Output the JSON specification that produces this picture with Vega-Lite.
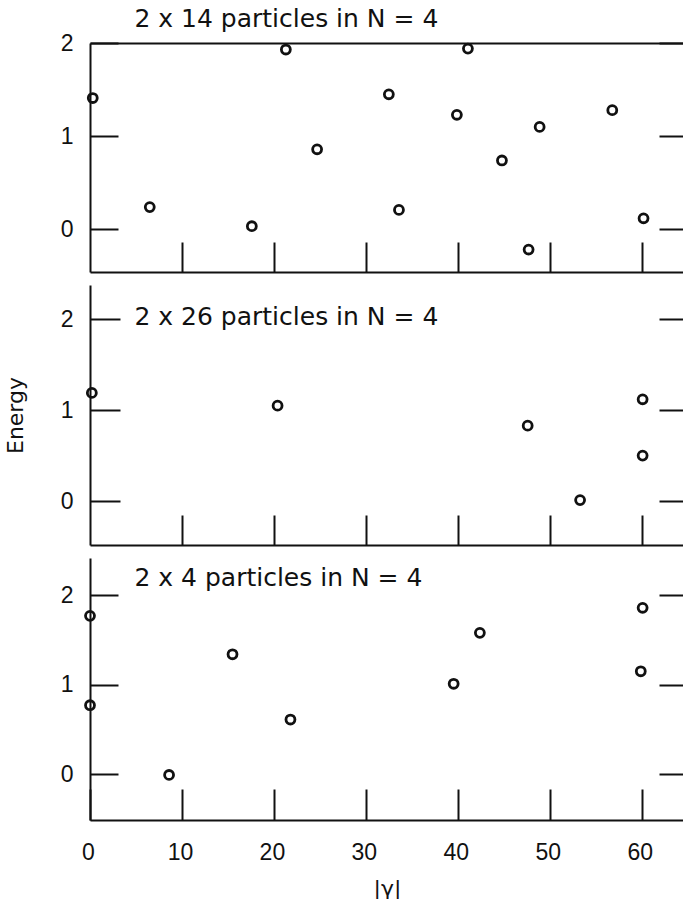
{
  "$schema": "https://vega.github.io/schema/vega-lite/v6.json",
  "background": "white",
  "padding": {"left": 4, "top": 6, "right": 0, "bottom": 0},
  "spacing": 12,
  "config": {
    "view": {"stroke": null},
    "axis": {
      "domainColor": "#111", "tickColor": "#111", "labelColor": "#111", "titleColor": "#111",
      "domainWidth": 2, "tickWidth": 2, "grid": false, "minExtent": 0,
      "labelFont": "Liberation Sans", "labelFontSize": 23, "labelFlush": false, "labelOverlap": false,
      "titleFont": "DejaVu Sans", "titleFontSize": 22, "titleFontWeight": "normal"
    }
  },
  "datasets": {
    "p1": [
      {"gamma": 0.3, "energy": 1.41},
      {"gamma": 6.5, "energy": 0.24},
      {"gamma": 17.6, "energy": 0.035},
      {"gamma": 21.3, "energy": 1.93},
      {"gamma": 24.7, "energy": 0.86},
      {"gamma": 32.5, "energy": 1.45},
      {"gamma": 33.6, "energy": 0.21},
      {"gamma": 39.9, "energy": 1.23},
      {"gamma": 41.1, "energy": 1.94},
      {"gamma": 44.8, "energy": 0.74},
      {"gamma": 47.7, "energy": -0.215},
      {"gamma": 48.9, "energy": 1.10},
      {"gamma": 56.8, "energy": 1.28},
      {"gamma": 60.2, "energy": 0.12}
    ],
    "p2": [
      {"gamma": 0.2, "energy": 1.19},
      {"gamma": 20.4, "energy": 1.05},
      {"gamma": 47.6, "energy": 0.83},
      {"gamma": 53.3, "energy": 0.01},
      {"gamma": 60.1, "energy": 1.12},
      {"gamma": 60.1, "energy": 0.50}
    ],
    "p3": [
      {"gamma": 0.0, "energy": 1.77},
      {"gamma": 0.0, "energy": 0.77},
      {"gamma": 8.6, "energy": -0.01},
      {"gamma": 15.5, "energy": 1.34},
      {"gamma": 21.8, "energy": 0.61},
      {"gamma": 39.55, "energy": 1.01},
      {"gamma": 42.4, "energy": 1.58},
      {"gamma": 60.1, "energy": 1.86},
      {"gamma": 59.9, "energy": 1.15}
    ]
  },
  "vconcat": [
    {
      "width": 594, "height": 229,
      "data": {"name": "p1"},
      "layer": [
        {
          "mark": {"type": "point", "shape": "circle", "filled": false, "size": 80, "strokeWidth": 2.8, "color": "#111", "opacity": 1},
          "encoding": {
            "x": {"field": "gamma", "type": "quantitative", "scale": {"domain": [0, 64.6], "nice": false, "zero": false},
                  "axis": {"orient": "bottom", "values": [10, 20, 30, 40, 50, 60], "labels": false, "tickSize": -30, "title": null}},
            "y": {"field": "energy", "type": "quantitative", "scale": {"domain": [-0.456, 2.0], "nice": false, "zero": false},
                  "axis": {"orient": "left", "values": [0, 1, 2], "tickSize": -28, "labelPadding": 45, "title": null}}
          }
        },
        {
          "mark": {"type": "point", "opacity": 0},
          "encoding": {
            "x": {"field": "gamma", "type": "quantitative",
                  "axis": {"orient": "top", "ticks": false, "labels": false, "title": "2 x 14 particles in N = 4",
                           "titleFont": "DejaVu Sans", "titleFontSize": 25, "titleAnchor": "start", "titleAlign": "left",
                           "titleBaseline": "alphabetic", "titleX": 44, "titleY": -16.6}},
            "y": {"field": "energy", "type": "quantitative", "axis": {"orient": "right", "values": [0, 1, 2], "tickSize": -25, "labels": false, "domain": false, "title": null}}
          }
        }
      ],
      "resolve": {"axis": {"x": "independent", "y": "independent"}}
    },
    {
      "width": 594, "height": 260,
      "data": {"name": "p2"},
      "layer": [
        {
          "mark": {"type": "point", "shape": "circle", "filled": false, "size": 80, "strokeWidth": 2.8, "color": "#111", "opacity": 1},
          "encoding": {
            "x": {"field": "gamma", "type": "quantitative", "scale": {"domain": [0, 64.6], "nice": false, "zero": false},
                  "axis": {"orient": "bottom", "values": [10, 20, 30, 40, 50, 60], "labels": false, "tickSize": -30, "title": null}},
            "y": {"field": "energy", "type": "quantitative", "scale": {"domain": [-0.484, 2.378], "nice": false, "zero": false},
                  "axis": {"orient": "left", "values": [0, 1, 2], "tickSize": -30, "labelPadding": 47, "title": "Energy", "titlePadding": 33}}
          }
        },
        {
          "mark": {"type": "point", "opacity": 0},
          "encoding": {
            "x": {"field": "gamma", "type": "quantitative",
                  "axis": {"orient": "top", "ticks": false, "labels": false, "domain": false, "title": "2 x 26 particles in N = 4",
                           "titleFont": "DejaVu Sans", "titleFontSize": 25, "titleAnchor": "start", "titleAlign": "left",
                           "titleBaseline": "alphabetic", "titleX": 44, "titleY": 39}},
            "y": {"field": "energy", "type": "quantitative", "axis": {"orient": "right", "values": [0, 1, 2], "tickSize": -25, "labels": false, "domain": false, "title": null}}
          }
        }
      ],
      "resolve": {"axis": {"x": "independent", "y": "independent"}}
    },
    {
      "width": 594, "height": 262,
      "data": {"name": "p3"},
      "layer": [
        {
          "mark": {"type": "point", "shape": "circle", "filled": false, "size": 80, "strokeWidth": 2.8, "color": "#111", "opacity": 1},
          "encoding": {
            "x": {"field": "gamma", "type": "quantitative", "scale": {"domain": [0, 64.6], "nice": false, "zero": false},
                  "axis": {"orient": "bottom", "values": [0, 10, 20, 30, 40, 50, 60], "tickSize": -31, "labelPadding": 52, "labelOffset": -2, "title": "|γ|", "titlePadding": 14}},
            "y": {"field": "energy", "type": "quantitative", "scale": {"domain": [-0.514, 2.417], "nice": false, "zero": false},
                  "axis": {"orient": "left", "values": [0, 1, 2], "tickSize": -28, "labelPadding": 45, "title": null}}
          }
        },
        {
          "mark": {"type": "point", "opacity": 0},
          "encoding": {
            "x": {"field": "gamma", "type": "quantitative",
                  "axis": {"orient": "top", "ticks": false, "labels": false, "domain": false, "title": "2 x 4 particles in N = 4",
                           "titleFont": "DejaVu Sans", "titleFontSize": 25, "titleAnchor": "start", "titleAlign": "left",
                           "titleBaseline": "alphabetic", "titleX": 44, "titleY": 27.5}},
            "y": {"field": "energy", "type": "quantitative", "axis": {"orient": "right", "values": [0, 1, 2], "tickSize": -25, "labels": false, "domain": false, "title": null}}
          }
        }
      ],
      "resolve": {"axis": {"x": "independent", "y": "independent"}}
    }
  ]
}
